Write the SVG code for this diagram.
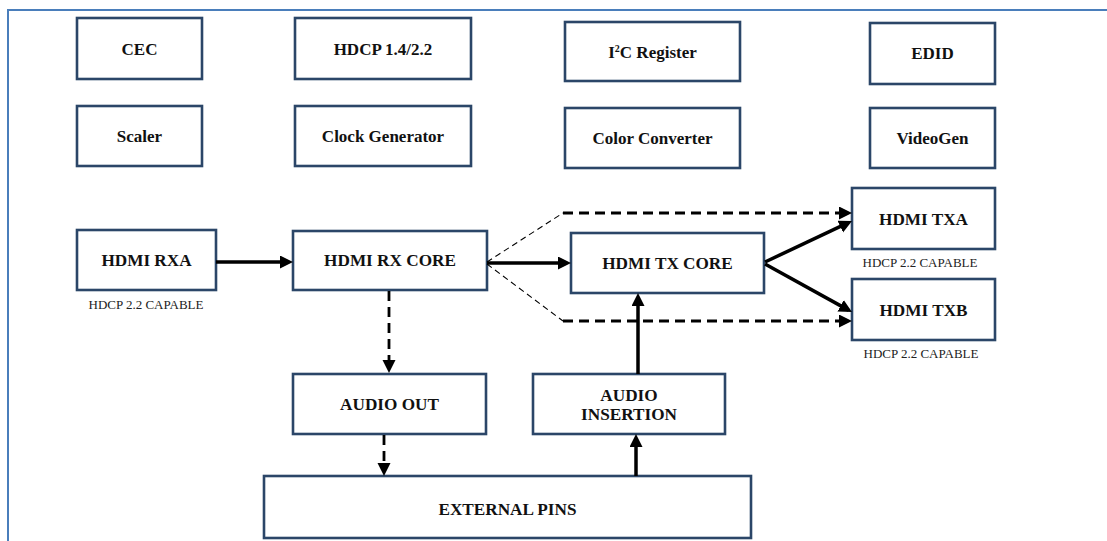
<svg xmlns="http://www.w3.org/2000/svg" width="1107" height="541" viewBox="0 0 1107 541">
  <style>
    .box { fill: #ffffff; stroke: #2b4668; stroke-width: 2.6; }
    .lbl { font-family: "Liberation Serif", "Times New Roman", serif; font-weight: bold; font-size: 17.2px; fill: #111; text-anchor: middle; }
    .lbl-top { font-size: 17px; }
    .cap { font-family: "Liberation Serif", "Times New Roman", serif; font-size: 13px; fill: #222; text-anchor: middle; }
    .solid { fill: none; stroke: #000; stroke-width: 3.5; }
    .dash { fill: none; stroke: #000; stroke-width: 2.8; stroke-dasharray: 10 6; }
    .thin { fill: none; stroke: #000; stroke-width: 1.1; stroke-dasharray: 6 4; }
    .frame { fill: none; stroke: #4a7ebb; stroke-width: 2; }
  </style>
  <defs>
    <marker id="head" markerUnits="userSpaceOnUse" markerWidth="14" markerHeight="14" refX="9" refY="6.5" orient="auto">
      <path d="M0,0 L13,6.5 L0,13 z" fill="#000"/>
    </marker>
  </defs>

  <rect width="1107" height="541" fill="#ffffff"/>
  <!-- page frame (left and top edges) -->
  <path class="frame" d="M8,541 V10 H1107"/>

  <!-- peripheral blocks -->
  <g id="cec"><rect class="box" x="77" y="18" width="125" height="61"/><text class="lbl lbl-top" x="139.5" y="55">CEC</text></g>
  <g id="hdcp"><rect class="box" x="295" y="18" width="176" height="61"/><text class="lbl lbl-top" x="383" y="55">HDCP 1.4/2.2</text></g>
  <g id="i2c"><rect class="box" x="565" y="22" width="175" height="59"/><text class="lbl lbl-top" x="652.5" y="58">I<tspan font-size="10" dy="-6">2</tspan><tspan dy="6">C Register</tspan></text></g>
  <g id="edid"><rect class="box" x="870" y="23" width="125" height="61"/><text class="lbl lbl-top" x="932.5" y="59">EDID</text></g>
  <g id="scaler"><rect class="box" x="77" y="106" width="125" height="60"/><text class="lbl lbl-top" x="139.5" y="142">Scaler</text></g>
  <g id="clockgen"><rect class="box" x="295" y="106" width="176" height="60"/><text class="lbl lbl-top" x="383" y="142">Clock Generator</text></g>
  <g id="colorconv"><rect class="box" x="565" y="108" width="175" height="60"/><text class="lbl lbl-top" x="652.5" y="144">Color Converter</text></g>
  <g id="videogen"><rect class="box" x="870" y="108" width="125" height="60"/><text class="lbl lbl-top" x="932.5" y="144">VideoGen</text></g>

  <!-- data path blocks -->
  <g id="hdmi-rxa"><rect class="box" x="77" y="230" width="139" height="60"/><text class="lbl" x="146.5" y="266">HDMI RXA</text><text class="cap" x="146" y="309">HDCP 2.2 CAPABLE</text></g>
  <g id="hdmi-rx-core"><rect class="box" x="293" y="231" width="194" height="59"/><text class="lbl" x="390" y="266">HDMI RX CORE</text></g>
  <g id="hdmi-tx-core"><rect class="box" x="571" y="233" width="193" height="60"/><text class="lbl" x="667.5" y="269">HDMI TX CORE</text></g>
  <g id="hdmi-txa"><rect class="box" x="852" y="188" width="143" height="61"/><text class="lbl" x="923.5" y="225">HDMI TXA</text><text class="cap" x="920" y="267">HDCP 2.2 CAPABLE</text></g>
  <g id="hdmi-txb"><rect class="box" x="852" y="279" width="143" height="61"/><text class="lbl" x="923.5" y="316">HDMI TXB</text><text class="cap" x="921" y="358">HDCP 2.2 CAPABLE</text></g>
  <g id="audio-out"><rect class="box" x="293" y="374" width="193" height="60"/><text class="lbl" x="389.5" y="410">AUDIO OUT</text></g>
  <g id="audio-insertion"><rect class="box" x="533" y="374" width="192" height="60"/><text class="lbl" x="629" y="401">AUDIO</text><text class="lbl" x="629" y="420">INSERTION</text></g>
  <g id="external-pins"><rect class="box" x="264" y="476" width="487" height="62"/><text class="lbl" x="507.5" y="515">EXTERNAL PINS</text></g>

  <!-- connectors -->
  <g id="connectors">
    <line class="solid" x1="216" y1="262" x2="289" y2="262" marker-end="url(#head)"/>
    <line class="solid" x1="487" y1="263" x2="567" y2="263" marker-end="url(#head)"/>
    <line class="solid" x1="765" y1="262" x2="848.4" y2="222.7" marker-end="url(#head)"/>
    <line class="solid" x1="765" y1="264" x2="848.5" y2="310.1" marker-end="url(#head)"/>
    <!-- bypass paths to the transmitters -->
    <path class="thin" d="M487,262 L563,213"/>
    <line class="dash" x1="563" y1="213" x2="848" y2="213" marker-end="url(#head)"/>
    <path class="thin" d="M487,264 L563,321"/>
    <line class="dash" x1="563" y1="321" x2="848" y2="321" marker-end="url(#head)"/>
    <!-- audio paths -->
    <line class="dash" x1="389" y1="291" x2="389" y2="369" marker-end="url(#head)"/>
    <line class="dash" x1="384" y1="435" x2="384" y2="472" marker-end="url(#head)"/>
    <line class="solid" x1="636" y1="476" x2="636" y2="438" marker-end="url(#head)"/>
    <line class="solid" x1="638" y1="374" x2="638" y2="297" marker-end="url(#head)"/>
  </g>
</svg>
